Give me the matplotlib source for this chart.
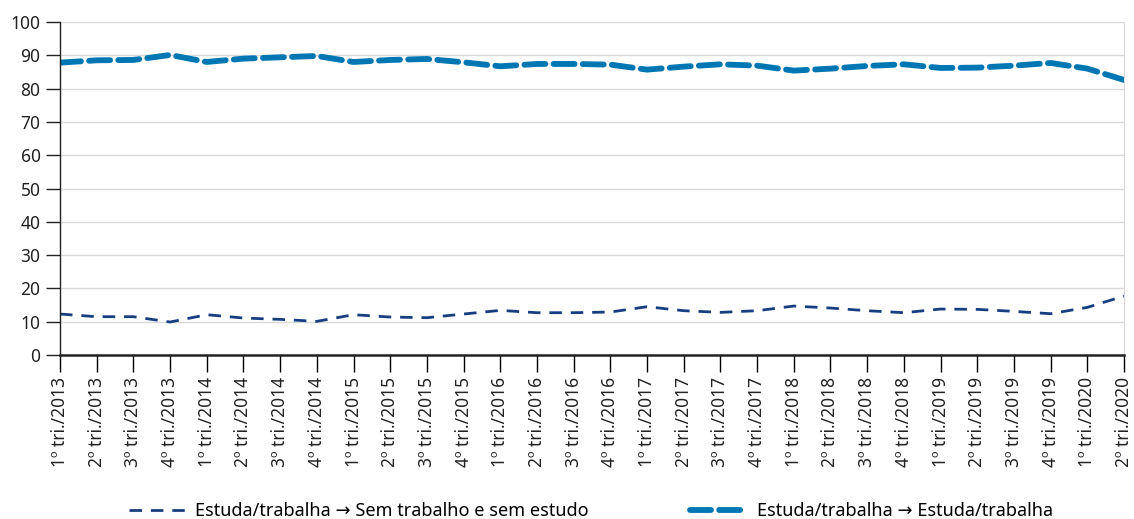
import matplotlib
matplotlib.use("Agg")
import matplotlib.pyplot as plt

plt.rcParams["font.family"] = ["Noto Sans", "DejaVu Sans"]

# -------------------------
# Data
# -------------------------
years = [2013] * 4 + [2014] * 4 + [2015] * 4 + [2016] * 4 + [2017] * 4 + [2018] * 4 + [2019] * 4 + [2020] * 2
quarters = [1, 2, 3, 4] * 7 + [1, 2]
labels = [f"{q}º tri./{y}" for q, y in zip(quarters, years)]

estuda_para_nem = [12.3, 11.5, 11.5, 9.9, 12.1, 11.1, 10.7, 10.1, 12.1, 11.4,
                   11.2, 12.3, 13.4, 12.7, 12.7, 12.9, 14.5, 13.3, 12.8, 13.3,
                   14.7, 14.1, 13.3, 12.7, 13.8, 13.7, 13.1, 12.4, 14.3, 17.7]
estuda_para_estuda = [87.8, 88.5, 88.6, 90.1, 88.0, 89.0, 89.4, 89.8, 88.0, 88.6,
                      88.9, 87.9, 86.7, 87.4, 87.4, 87.2, 85.7, 86.6, 87.3, 86.9,
                      85.4, 86.0, 86.8, 87.3, 86.2, 86.3, 86.9, 87.7, 86.0, 82.6]

label_nem = "Estuda/trabalha \u2192 Sem trabalho e sem estudo"
label_est = "Estuda/trabalha \u2192 Estuda/trabalha"

# -------------------------
# Plot
# -------------------------
fig = plt.figure(figsize=(11.34, 5.19), dpi=100)
ax = fig.add_axes([0.0529, 0.316, 0.9383, 0.6416])

x = list(range(len(labels)))
ax.plot(x, estuda_para_nem, color="#173f80", lw=2.0, ls=(0, (4.5, 3.2)),
        label=label_nem)
ax.plot(x, estuda_para_estuda, color="#0077b3", lw=4.2, ls=(0, (3.6, 1.4)),
        dash_capstyle="round", label=label_est)

ax.set_xlim(0, len(labels) - 1)
ax.set_ylim(0, 100)
ax.set_yticks(range(0, 101, 10))
ax.set_xticks(x)
ax.set_xticklabels(labels, rotation=90, fontsize=12.5, color="#222222")
ax.tick_params(axis="y", labelsize=12.5, colors="#222222", length=10, width=1.0, pad=4)
ax.tick_params(axis="x", length=12, width=1.0, pad=4)
ax.grid(axis="y", color="#d9d9d9", lw=1.0)
ax.set_axisbelow(True)

ax.spines["top"].set_visible(False)
ax.spines["right"].set_color("#d9d9d9")
ax.spines["left"].set_color("#222222")
ax.spines["bottom"].set_color("#222222")
ax.spines["bottom"].set_linewidth(1.8)
ax.spines["left"].set_linewidth(1.0)

fig.legend(loc="lower center", bbox_to_anchor=(0.521, -0.034), ncol=2, frameon=False,
           fontsize=13, handlelength=3.2, handletextpad=0.5, columnspacing=5.6)

fig.savefig("out.png", dpi=100)
